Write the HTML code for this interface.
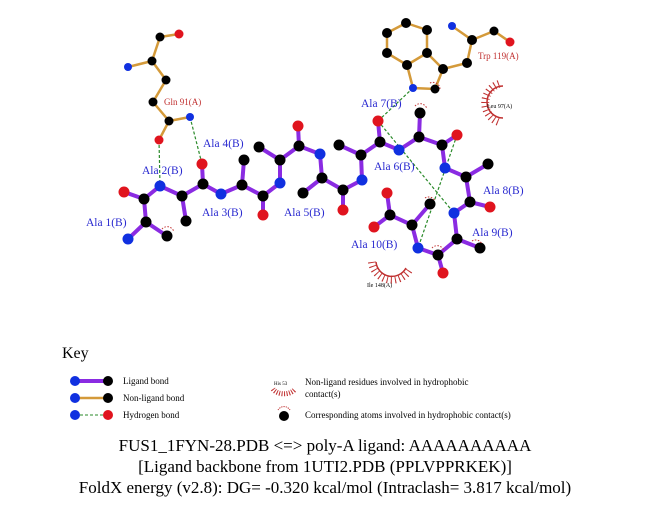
<!DOCTYPE html>
<html><head><style>body{margin:0;background:#fff}svg{display:block}</style></head><body>
<svg width="651" height="511" xmlns="http://www.w3.org/2000/svg" font-family="Liberation Serif, serif">
<rect width="651" height="511" fill="#fff"/>
<g stroke="#d49a3a" stroke-width="2.5" fill="none">
<polyline points="179,34 160,37 152,61 166,80 153,102 169,121 159,140"/>
<line x1="152" y1="61" x2="128" y2="67"/><line x1="169" y1="121" x2="190" y2="117"/>
<polygon points="406,23 427,30 427,53 407,65 387,53 387,33"/>
<polyline points="407,65 413,88 435,89 443,69 427,53"/>
<polyline points="443,69 467,63 472,40 494,31 510,42"/><line x1="472" y1="40" x2="452" y2="26"/>
</g>
<g stroke="#8a2be2" stroke-width="4" fill="none" stroke-linecap="round">
<polyline points="124,192 144,199 160,186 182,196 203,184 221,194 242,185 263,196 280,183 280,160 299,146 320,154 322,178 343,190 362,180 361,155 380,142 399,150 419,137 442,145 445,168 466,177 470,202 454,213 457,239 438,255 418,248 412,225 390,215 387,193"/>
<polyline points="144,199 146,222 128,239"/><line x1="146" y1="222" x2="167" y2="236"/>
<line x1="182" y1="196" x2="186" y2="221"/><line x1="203" y1="184" x2="202" y2="164"/>
<line x1="242" y1="185" x2="244" y2="160"/><line x1="263" y1="196" x2="263" y2="215"/>
<line x1="280" y1="160" x2="259" y2="147"/><line x1="299" y1="146" x2="298" y2="126"/>
<line x1="322" y1="178" x2="303" y2="193"/><line x1="343" y1="190" x2="343" y2="210"/>
<line x1="361" y1="155" x2="339" y2="145"/><line x1="380" y1="142" x2="378" y2="121"/>
<line x1="419" y1="137" x2="420" y2="113"/><line x1="442" y1="145" x2="457" y2="135"/>
<line x1="466" y1="177" x2="488" y2="164"/><line x1="470" y1="202" x2="490" y2="207"/>
<line x1="457" y1="239" x2="480" y2="248"/><line x1="438" y1="255" x2="443" y2="273"/>
<line x1="412" y1="225" x2="430" y2="204"/><line x1="390" y1="215" x2="374" y2="227"/>
</g>
<g stroke="#2a8a2a" stroke-width="1.2" stroke-dasharray="3,2">
<line x1="159" y1="140" x2="160" y2="186"/><line x1="190" y1="117" x2="202" y2="164"/>
<line x1="413" y1="88" x2="378" y2="121"/><line x1="378" y1="121" x2="454" y2="213"/>
<line x1="457" y1="135" x2="418" y2="248"/>
</g>
<g fill="#000">
<circle cx="160" cy="37" r="4.5"/><circle cx="152" cy="61" r="4.5"/><circle cx="166" cy="80" r="4.5"/><circle cx="153" cy="102" r="4.5"/><circle cx="169" cy="121" r="4.5"/>
<circle cx="406" cy="23" r="5"/><circle cx="427" cy="30" r="5"/><circle cx="427" cy="53" r="5"/><circle cx="407" cy="65" r="5"/><circle cx="387" cy="53" r="5"/><circle cx="387" cy="33" r="5"/><circle cx="443" cy="69" r="5"/><circle cx="435" cy="89" r="4.5"/><circle cx="467" cy="63" r="5"/><circle cx="472" cy="40" r="5"/><circle cx="494" cy="31" r="4.5"/>
<circle cx="144" cy="199" r="5.5"/><circle cx="146" cy="222" r="5.5"/><circle cx="167" cy="236" r="5.5"/><circle cx="182" cy="196" r="5.5"/><circle cx="186" cy="221" r="5.5"/><circle cx="203" cy="184" r="5.5"/><circle cx="242" cy="185" r="5.5"/><circle cx="244" cy="160" r="5.5"/><circle cx="263" cy="196" r="5.5"/><circle cx="280" cy="160" r="5.5"/><circle cx="259" cy="147" r="5.5"/><circle cx="299" cy="146" r="5.5"/><circle cx="322" cy="178" r="5.5"/><circle cx="303" cy="193" r="5.5"/><circle cx="343" cy="190" r="5.5"/><circle cx="361" cy="155" r="5.5"/><circle cx="339" cy="145" r="5.5"/><circle cx="380" cy="142" r="5.5"/><circle cx="419" cy="137" r="5.5"/><circle cx="420" cy="113" r="5.5"/><circle cx="442" cy="145" r="5.5"/><circle cx="466" cy="177" r="5.5"/><circle cx="488" cy="164" r="5.5"/><circle cx="470" cy="202" r="5.5"/><circle cx="457" cy="239" r="5.5"/><circle cx="480" cy="248" r="5.5"/><circle cx="438" cy="255" r="5.5"/><circle cx="412" cy="225" r="5.5"/><circle cx="430" cy="204" r="5.5"/><circle cx="390" cy="215" r="5.5"/>
</g>
<g fill="#e0141e">
<circle cx="179" cy="34" r="4.5"/><circle cx="159" cy="140" r="4.5"/><circle cx="510" cy="42" r="4.5"/>
<circle cx="124" cy="192" r="5.5"/><circle cx="202" cy="164" r="5.5"/><circle cx="263" cy="215" r="5.5"/><circle cx="298" cy="126" r="5.5"/><circle cx="343" cy="210" r="5.5"/><circle cx="378" cy="121" r="5.5"/><circle cx="457" cy="135" r="5.5"/><circle cx="490" cy="207" r="5.5"/><circle cx="443" cy="273" r="5.5"/><circle cx="387" cy="193" r="5.5"/><circle cx="374" cy="227" r="5.5"/>
</g>
<g fill="#1030e0">
<circle cx="128" cy="67" r="4"/><circle cx="190" cy="117" r="4"/><circle cx="452" cy="26" r="4"/><circle cx="413" cy="88" r="4"/>
<circle cx="160" cy="186" r="5.5"/><circle cx="128" cy="239" r="5.5"/><circle cx="221" cy="194" r="5.5"/><circle cx="280" cy="183" r="5.5"/><circle cx="320" cy="154" r="5.5"/><circle cx="362" cy="180" r="5.5"/><circle cx="399" cy="150" r="5.5"/><circle cx="445" cy="168" r="5.5"/><circle cx="454" cy="213" r="5.5"/><circle cx="418" cy="248" r="5.5"/>
</g>
<g stroke="#c03030" stroke-width="1" fill="none">
<path d="M162,229 a7,7 0 0 1 12,3" stroke-dasharray="1.5,1.5"/>
<path d="M415,106 a7,7 0 0 1 12,3" stroke-dasharray="1.5,1.5"/>
<path d="M430,83 a7,7 0 0 1 10,6" stroke-dasharray="1.5,1.5"/>
<path d="M425,198 a7,7 0 0 1 10,3" stroke-dasharray="1.5,1.5"/>
<path d="M472,241 a7,7 0 0 1 10,3" stroke-dasharray="1.5,1.5"/>
<path d="M432,248 a7,7 0 0 1 12,3" stroke-dasharray="1.5,1.5"/>
<path d="M503,86 a16,16 0 0 0 0,32" stroke-width="1.5"/>
<path d="M499,84 a20,20 0 0 0 0,38" stroke-width="8" stroke-dasharray="1,3"/>
<path d="M376,262 a16,16 0 0 0 30,6" stroke-width="1.5"/>
<path d="M372,262 a20,20 0 0 0 37,8" stroke-width="8" stroke-dasharray="1,3"/>
</g>
<g fill="#2a2ad0" font-size="11.5">
<text x="86" y="226">Ala 1(B)</text><text x="142" y="174">Ala 2(B)</text><text x="202" y="216">Ala 3(B)</text><text x="203" y="147">Ala 4(B)</text><text x="284" y="216">Ala 5(B)</text><text x="374" y="170">Ala 6(B)</text><text x="361" y="107">Ala 7(B)</text><text x="483" y="194">Ala 8(B)</text><text x="472" y="236">Ala 9(B)</text><text x="351" y="248">Ala 10(B)</text>
</g>
<g fill="#c03030" font-size="9"><text x="164" y="105">Gln 91(A)</text><text x="478" y="59">Trp 119(A)</text></g>
<g fill="#000" font-size="6"><text x="487" y="108">Leu 97(A)</text><text x="367" y="287">Ile 148(A)</text></g>
<text x="62" y="358" font-size="16">Key</text>
<line x1="75" y1="381" x2="108" y2="381" stroke="#8a2be2" stroke-width="4"/><circle cx="75" cy="381" r="5" fill="#1030e0"/><circle cx="108" cy="381" r="5" fill="#000"/>
<line x1="75" y1="398" x2="108" y2="398" stroke="#d49a3a" stroke-width="2.5"/><circle cx="75" cy="398" r="5" fill="#1030e0"/><circle cx="108" cy="398" r="5" fill="#000"/>
<line x1="75" y1="415" x2="108" y2="415" stroke="#2a8a2a" stroke-width="1" stroke-dasharray="3,2"/><circle cx="75" cy="415" r="5" fill="#1030e0"/><circle cx="108" cy="415" r="5" fill="#e0141e"/>
<g font-size="9" fill="#000"><text x="123" y="384">Ligand bond</text><text x="123" y="401">Non-ligand bond</text><text x="123" y="418">Hydrogen bond</text>
<text x="305" y="385">Non-ligand residues involved in hydrophobic</text><text x="305" y="397">contact(s)</text><text x="305" y="418">Corresponding atoms involved in hydrophobic contact(s)</text>
<text x="274" y="385" font-size="5">His 53</text></g>
<path d="M273,389 a12,8 0 0 0 22,0" stroke="#c03030" stroke-width="5" fill="none" stroke-dasharray="1,1.5"/>
<circle cx="284" cy="416" r="5" fill="#000"/><path d="M278,410 a7,7 0 0 1 12,0" stroke="#c03030" fill="none" stroke-dasharray="1.2,1"/>
<g font-size="17" fill="#000" text-anchor="middle"><text x="325" y="451">FUS1_1FYN-28.PDB &lt;=&gt; poly-A ligand: AAAAAAAAAA</text><text x="325" y="472">[Ligand backbone from 1UTI2.PDB (PPLVPPRKEK)]</text><text x="325" y="493">FoldX energy (v2.8): DG= -0.320 kcal/mol (Intraclash= 3.817 kcal/mol)</text></g>
</svg>
</body></html>
